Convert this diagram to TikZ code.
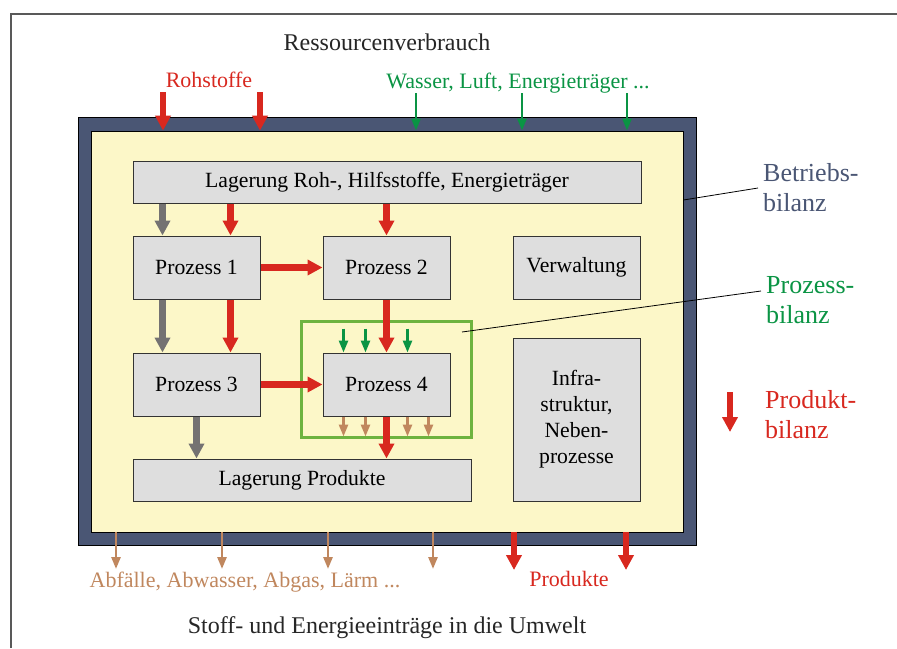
\documentclass[tikz,border=0pt]{standalone}
\usepackage{fontspec}
\setmainfont{Liberation Serif}
\usetikzlibrary{arrows.meta,positioning}
\definecolor{rahmenblau}{HTML}{4A5674}
\definecolor{hellgelb}{HTML}{FCF7C8}
\definecolor{boxgrau}{HTML}{DEDEDE}
\definecolor{pfeilrot}{HTML}{D8281F}
\definecolor{pfeilgrau}{HTML}{747272}
\definecolor{gruen}{HTML}{0A9444}
\definecolor{hellgruen}{HTML}{6DB33F}
\definecolor{braun}{HTML}{C0875E}

\begin{document}
\begin{tikzpicture}[x=1pt, y=-1pt, font=\fontsize{21.7}{26}\selectfont]
\tikzset{
  box/.style={rectangle, draw=black!80, fill=boxgrau, line width=1pt, minimum width=127pt, minimum height=63pt, align=center, inner sep=0pt},
  rotarr/.style={-{Triangle[length=15pt,width=15pt]}, line width=6.5pt, pfeilrot},
  grauarr/.style={-{Triangle[length=15pt,width=15pt]}, line width=6.5pt, pfeilgrau},
  gruenarr/.style={-{Triangle[length=12pt,width=9pt]}, line width=2.6pt, gruen},
  braunarr/.style={-{Triangle[length=12pt,width=9pt]}, line width=2.6pt, braun},
  labeltxt/.style={font=\fontsize{22}{26}\selectfont},
  titeltxt/.style={font=\fontsize{24}{28}\selectfont, text=black!85},
  seitetxt/.style={font=\fontsize{26}{30}\selectfont, align=left, anchor=west, inner sep=5pt},
}
\useasboundingbox (0,0) rectangle (897,648);
\draw[line width=1.5pt, black!65] (11,648) -- (11,14) -- (897,14);

% Betriebsbilanz
\node[draw=black, fill=rahmenblau, line width=0.8pt, minimum width=618pt, minimum height=428pt, inner sep=0pt] (aussen) at (387,331) {};
\node[draw=black, fill=hellgelb, line width=0.8pt, minimum width=592pt, minimum height=401pt, inner sep=0pt] (betrieb) at (387,331.5) {};

% Boxen
\node[box] (p1) at (196.5,267.5) {Prozess 1};
\node[box, right=62pt of p1] (p2) {Prozess 2};
\node[box, right=62pt of p2] (verw) {Verwaltung};
\node[box, below=53pt of p1] (p3) {Prozess 3};
\node[box, below=53pt of p2] (p4) {Prozess 4};
\node[box, minimum width=508pt, minimum height=42pt, above=32pt of p1.north west, anchor=south west] (lagerroh) {Lagerung Roh-, Hilfsstoffe, Energieträger};
\node[box, minimum width=338pt, minimum height=42pt, below=42pt of p3.south west, anchor=north west] (lagerprod) {Lagerung Produkte};
\node[box, minimum height=163pt, below=38pt of verw] (infra) {Infra-\\struktur,\\Neben-\\prozesse};
\node[draw=hellgruen, line width=3pt, minimum width=170pt, minimum height=116pt] (pbil) at ([yshift=5pt]p4.center) {};

% Pfeile innen
\coordinate (p1l) at ([xshift=-34pt]p1.north);
\coordinate (p1r) at ([xshift=34pt]p1.north);
\draw[grauarr] (p1l |- lagerroh.south) -- (p1l);
\draw[rotarr] (p1r |- lagerroh.south) -- (p1r);
\draw[rotarr] (p2 |- lagerroh.south) -- (p2.north);
\draw[rotarr] (p1) -- (p2);
\draw[grauarr] (p1.south -| p1l) -- (p3.north -| p1l);
\draw[rotarr] (p1.south -| p1r) -- (p3.north -| p1r);
\draw[rotarr] (p2) -- (p4);
\draw[rotarr] (p3) -- (p4);
\draw[grauarr] (p3) -- (p3 |- lagerprod.north);
\draw[rotarr] (p4) -- (p4 |- lagerprod.north);
\foreach \dx in {-43,-21,21}
  \draw[gruenarr] ([xshift=\dx pt, yshift=24pt]p4.north) -- ([xshift=\dx pt]p4.north);
\foreach \dx in {-43,-21,21,42}
  \draw[braunarr] ([xshift=\dx pt]p4.south) -- ++(0,20);

% Pfeile aussen
\foreach \x in {163,260}
  \draw[rotarr] (\x,92) -- (\x,0 |- betrieb.north);
\foreach \x in {416,522,627}
  \draw[gruenarr] (\x,93) -- (\x,0 |- betrieb.north);
\foreach \x in {116,222,328,433}
  \draw[braunarr] (\x,0 |- betrieb.south) -- (\x,569);
\foreach \x in {514,626}
  \draw[rotarr] (\x,0 |- betrieb.south) -- (\x,570);

% Beschriftung
\node[titeltxt] (oben) at (387,42) {Ressourcenverbrauch};
\node[labeltxt, text=pfeilrot] (roh) at (209,80) {Rohstoffe};
\node[labeltxt, text=gruen] (wasser) at (518,83) {Wasser, Luft, Energieträger ...};
\node[labeltxt, text=braun] (abf) at (245,582) {Abfälle, Abwasser, Abgas, Lärm ...};
\node[labeltxt, text=pfeilrot] (prod) at (569,579) {Produkte};
\node[titeltxt] (unten) at (387,628) {Stoff- und Energieeinträge in die Umwelt};

\node[seitetxt, text=rahmenblau] (betrlabel) at (758,188) {Betriebs-\\bilanz};
\node[seitetxt, text=gruen] (prozlabel) at (761,300) {Prozess-\\bilanz};
\node[seitetxt, text=pfeilrot] (prodlabel) at (760,414.5) {Produkt-\\bilanz};
\draw[line width=0.8pt] (betrieb.east |- 0,200) -- (betrlabel.west);
\coordinate (pstart) at ([xshift=-11pt,yshift=-12pt]pbil.north east);
\draw[line width=0.8pt] (pstart) -- ([yshift=9pt]prozlabel.west);
\coordinate (leg) at (730,392);
\draw[rotarr] (leg) -- ++(0,40);
\end{tikzpicture}
\end{document}
